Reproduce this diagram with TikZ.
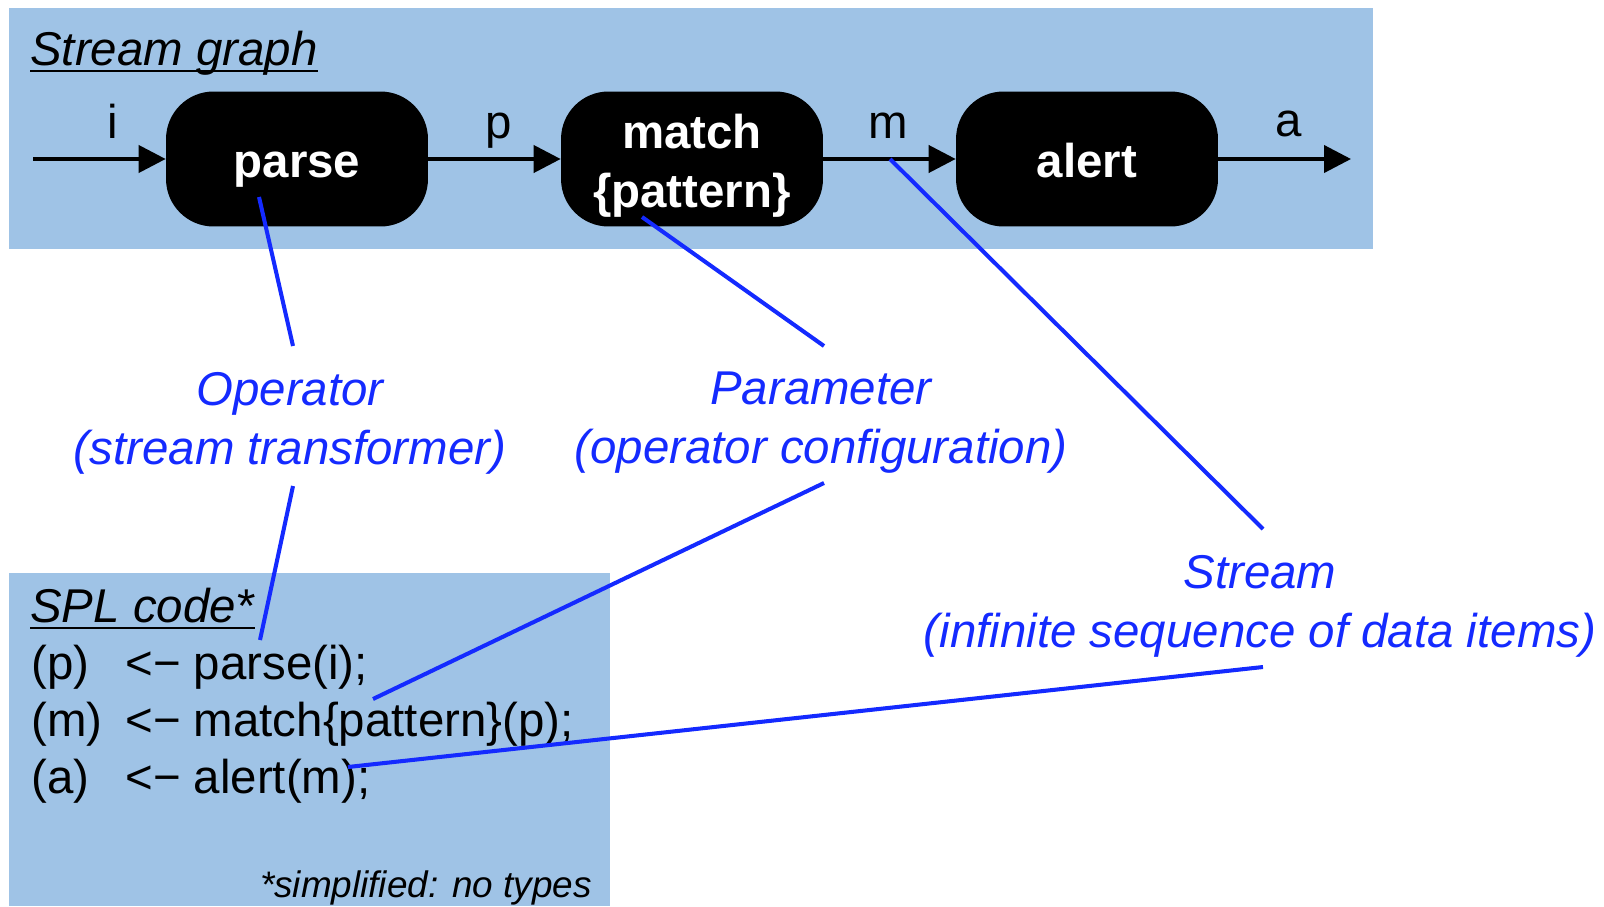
\documentclass[tikz,border=0pt]{standalone}
\usepackage{fontspec}
\setmainfont{Liberation Sans}
\usetikzlibrary{arrows.meta,positioning}
\definecolor{mpanel}{RGB}{159,195,230}
\definecolor{mblue}{RGB}{20,42,255}

\begin{document}
\begin{tikzpicture}[x=0.02cm,y=-0.02cm]
  \tikzset{op box/.style={fill=black,rounded corners=0.95cm,minimum width=5.24cm,minimum height=2.7cm,inner sep=0pt,
      text=white,align=center,text height=0.96cm,text depth=0.21cm,font=\bfseries\fontsize{27}{33.6}\selectfont},
    flow/.style={line width=2.3pt,-{Triangle[length=0.54cm,width=0.54cm]}},
    flow label/.style={anchor=base,inner sep=0pt,font=\fontsize{27}{32}\selectfont},
    note/.style={text=mblue,align=center,inner sep=0pt,font=\itshape\fontsize{27}{33.5}\selectfont},
    pointer/.style={draw=mblue,line width=2.3pt},
    code/.style={anchor=base west,inner sep=0pt,font=\fontsize{27}{32}\selectfont},
    heading/.style={anchor=base west,inner sep=0pt,font=\itshape\fontsize{27}{32}\selectfont}}

  \useasboundingbox (0,0) rectangle (1604,906);
  \fill[mpanel] (9,8) rectangle (1373,249); % graph panel
  \fill[mpanel] (9,573) rectangle (610,906); % code panel

  % stream graph
  \node[heading] (sg) at (30,65) {Stream graph};
  \draw[line width=1.4pt] ([yshift=-0.12cm]sg.base west) -- ([yshift=-0.12cm]sg.base east);
  \node[op box] (parse) at (297,159) {parse};
  \node[op box,text height=2.17cm] (match) at (692,159) {match\\\{pattern\}};
  \node[op box] (alert) at (1087,159) {alert};
  \coordinate (in) at (33,159);
  \coordinate (out) at (1351,159);
  \draw[flow] (in) -- (parse);
  \draw[flow] (parse) -- (match);
  \draw[flow] (match) -- (alert);
  \draw[flow] (alert) -- (out);
  \node[flow label] (li) at (113,138) {i};
  \node[flow label] (lp) at (499,138) {p};
  \node[flow label] (lm) at (888,138) {m};
  \node[flow label] (la) at (1289,136) {a};

  % explanations
  \node[note] (operator) at (290,423) {Operator\\(stream transformer)};
  \node[note] (parameter) at (821,423) {Parameter\\(operator configuration)};
  \node[note] (stream) at (1260,606) {Stream\\(infinite sequence of data items)};

  % SPL code
  \node[heading] (spl) at (30,622) {SPL code*};
  \draw[line width=1.4pt] ([yshift=-0.12cm]spl.base west) -- ([yshift=-0.12cm]spl.base east);
  \node[code] (pvar) at (31,679) {(p)};
  \node[code] (pstmt) at (125,679) {<− parse(i);};
  \node[code] (mvar) at (31,736) {(m)};
  \node[code] (mstmt) at (125,736) {<− match\{pattern\}(p);};
  \node[code] (avar) at (31,793) {(a)};
  \node[code] (astmt) at (125,793) {<− alert(m);};
  \node[anchor=base east,inner sep=0pt,font=\itshape\fontsize{21}{25}\selectfont] (simpl) at (592,897) {*simplified: no types};

  % pointers
  \coordinate (parse pt) at (259,197);
  \coordinate (op top) at (293,346);
  \coordinate (op bot) at (293,486);
  \coordinate (pstmt pt) at (260,640);
  \coordinate (match pt) at (642,217);
  \coordinate (par top) at (824,346);
  \coordinate (par bot) at (824,483);
  \coordinate (mstmt pt) at (373,699);
  \coordinate (m pt) at (890,159);
  \coordinate (str top) at (1263,529);
  \coordinate (str bot) at (1263,667);
  \coordinate (astmt pt) at (348,767);
  \draw[pointer] (parse pt) -- (op top);
  \draw[pointer] (op bot) -- (pstmt pt);
  \draw[pointer] (match pt) -- (par top);
  \draw[pointer] (par bot) -- (mstmt pt);
  \draw[pointer] (m pt) -- (str top);
  \draw[pointer] (str bot) -- (astmt pt);
\end{tikzpicture}
\end{document}
